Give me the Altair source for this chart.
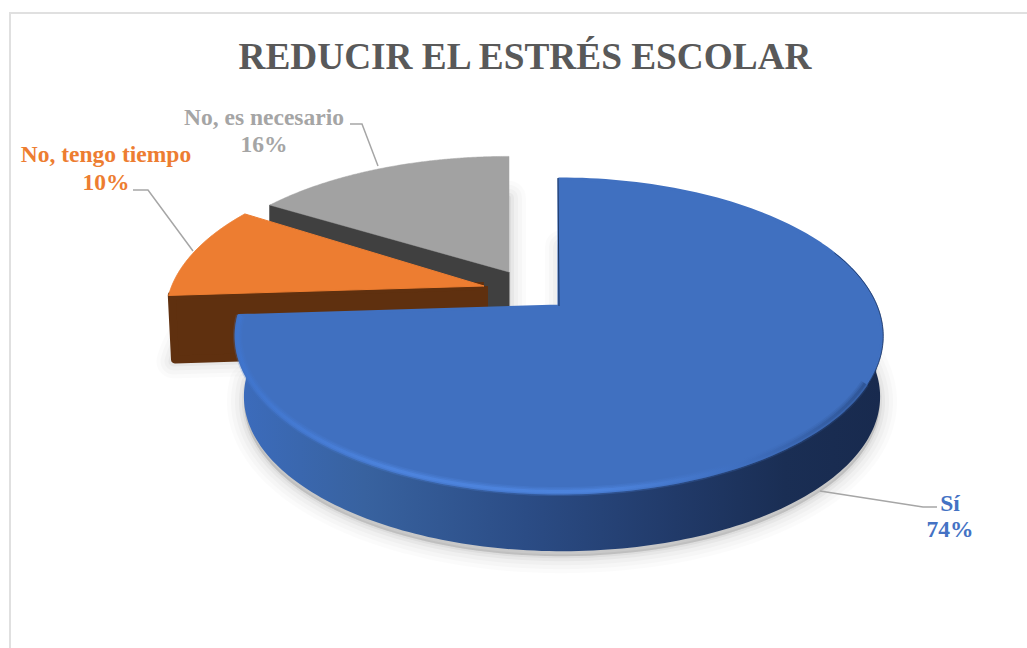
import numpy as np
import pandas as pd
import altair as alt

# Survey answers, clockwise from twelve o'clock
categories = ["Sí", "No, tengo tiempo", "No, es necesario"]
percentages = [74, 10, 16]

W, H = 1027, 648
FONT = "Liberation Serif"
BLUE, ORANGE, GREY = "#4070c0", "#ed7d31", "#a2a2a2"
TEXT_BLUE, TEXT_GREY = "#4472c4", "#a5a5a5"

# Tilted-disc projection of the pie
TILT = 0.191
SPREAD_Y = 151.3
SPREAD_X = 317.0


def project(phi, apex, sx=1.0, sy=1.0, drop=0.0, shift=0.0):
    u, v = np.sin(phi), -np.cos(phi)
    d = 1 - TILT * v
    return apex[0] + shift + sx * SPREAD_X * u / d, apex[1] + sy * SPREAD_Y * v / d + drop


def table(xs, ys):
    return pd.DataFrame({"x": xs, "y": ys, "i": np.arange(len(xs))})


x_scale = alt.Scale(domain=[0, W], range=[0, W], nice=False, zero=False)
y_scale = alt.Scale(domain=[0, H], range=[0, H], nice=False, zero=False)


def path(df, **mark):
    return alt.Chart(df).mark_line(**mark).encode(
        x=alt.X("x:Q", scale=x_scale, axis=None),
        y=alt.Y("y:Q", scale=y_scale, axis=None),
        order=alt.Order("i:Q"),
    )


def sweep(a, b, n=160):
    return np.linspace(a, b, n)


def sector(a, b, apex, sx=1.0, sy=1.0, drop=0.0, shift=0.0):
    px, py = project(sweep(a, b), apex, sx, sy, drop, shift)
    ax = apex[0] + shift
    return table(np.r_[ax, px, ax], np.r_[apex[1] + drop, py, apex[1] + drop])


def wall(a, b, apex, low_sx, low_sy, drop, shift):
    tx, ty = project(sweep(a, b), apex)
    bx, by = project(sweep(b, a), apex, low_sx, low_sy, drop, shift)
    return table(np.r_[tx, bx, tx[0]], np.r_[ty, by, ty[0]])


def radial_face(phi, apex, sx, sy, low_sx, low_sy, drop):
    cx, cy = project(phi, apex, sx, sy)
    lx, ly = project(phi, apex, low_sx, low_sy, drop)
    return table([apex[0], cx, lx, apex[0], apex[0]],
                 [apex[1], cy, ly, apex[1] + drop, apex[1]])


def text(label, x, y, size, color):
    return alt.Chart(pd.DataFrame({"t": [label]})).mark_text(
        font=FONT, fontWeight="bold", fontSize=size, color=color, align="center", baseline="alphabetic"
    ).encode(text="t:N", x=alt.value(x), y=alt.value(y))


# Slice boundaries follow the percentages
edges = np.radians(np.cumsum([0] + percentages) * 3.6)
a_blue, b_blue = edges[0], edges[1]
a_orange, b_orange = edges[1], edges[2]
a_grey, b_grey = edges[2], edges[3]

APEX_BLUE = (559, 306)
APEX_ORANGE = (484, 286)
APEX_GREY = (509, 272)

layers = []

# Frame, open towards the window's right and bottom edges
layers.append(path(table([W + 5, 10, 10], [13, 13, H + 5]), stroke="#e0e0e0", strokeWidth=2, clip=True))

# Soft ground shadows, widest first
shadow_blue = sector(a_blue, b_blue, APEX_BLUE, 0.985, 0.985, 66, 3)
shadow_orange = sector(a_orange, b_orange, APEX_ORANGE, 0.97, 0.98, 66)
shadow_grey = sector(a_grey, b_grey, APEX_GREY, 0.99, 0.9, 40)
for width, alpha in [(34, 0.014), (26, 0.018), (18, 0.024), (10, 0.034), (4, 0.045)]:
    for frame in (shadow_grey, shadow_orange, shadow_blue):
        layers.append(path(frame, fill="#000000", stroke="#000000", strokeWidth=width,
                           fillOpacity=alpha, strokeOpacity=alpha, strokeJoin="round"))

# Grey slice
layers.append(path(radial_face(b_orange, APEX_GREY, 0.985, 0.91, 0.985, 0.91, 60),
                   fill="#404040", stroke="#404040", strokeWidth=1, strokeJoin="round"))
layers.append(path(sector(a_grey, b_grey, APEX_GREY, 0.985, 0.91), fill=GREY, stroke=GREY, strokeWidth=0.5))

# Orange slice, its side face with rounded lower corner
layers.append(path(radial_face(a_orange, APEX_ORANGE, 0.975, 0.98, 0.965, 0.98, 64),
                   fill="#5f300f", stroke="#5f300f", strokeWidth=8, strokeJoin="round"))
layers.append(path(sector(a_orange, b_orange, APEX_ORANGE, 0.985, 0.98), fill=ORANGE, stroke=ORANGE, strokeWidth=1,
                   strokeJoin="round"))

# Blue slice: outer wall shaded from left to right, then the top face and its bevel
wall_shade = alt.Gradient(
    gradient="linear", x1=0, x2=1, y1=0, y2=0,
    stops=[
        alt.GradientStop(color="#3c6cbd", offset=0.0),
        alt.GradientStop(color="#38629f", offset=0.2),
        alt.GradientStop(color="#2b4c85", offset=0.45),
        alt.GradientStop(color="#213a69", offset=0.68),
        alt.GradientStop(color="#1a2e54", offset=0.85),
        alt.GradientStop(color="#182a4e", offset=1.0),
    ],
)
layers.append(path(wall(np.radians(92), b_blue, APEX_BLUE, 0.985, 0.985, 61, 3),
                   fill=wall_shade, strokeWidth=0))
layers.append(path(sector(a_blue, b_blue, APEX_BLUE), fill=BLUE, stroke=BLUE, strokeWidth=3, strokeJoin="round"))

bevel_x, bevel_y = project(sweep(np.radians(118), b_blue), APEX_BLUE, 0.995, 0.992)
bevel_shade = alt.Gradient(
    gradient="linear", x1=1, x2=0, y1=0, y2=0,
    stops=[
        alt.GradientStop(color="#2f5596", offset=0.0),
        alt.GradientStop(color="#3f6fc0", offset=0.2),
        alt.GradientStop(color="#4d84de", offset=0.42),
        alt.GradientStop(color="#4d84de", offset=0.75),
        alt.GradientStop(color="#3f74cc", offset=1.0),
    ],
)
for width, alpha in [(9, 0.25), (6, 0.4), (3, 0.9)]:
    layers.append(path(table(bevel_x, bevel_y), stroke=bevel_shade, strokeWidth=width, strokeOpacity=alpha))

# Dark hairlines along the shaded blue edges
hair_x, hair_y = project(sweep(np.radians(68), np.radians(118), 60), APEX_BLUE, 1.004, 1.004)
layers.append(path(table(hair_x, hair_y), stroke="#1d3560", strokeWidth=1, strokeOpacity=0.8))
layers.append(path(table([APEX_BLUE[0], APEX_BLUE[0] - 1], [APEX_BLUE[1], 178]), stroke="#1d3560", strokeWidth=1))

# Leader lines
for xs, ys in [([350, 362, 378], [124, 124, 166]),
               ([133, 148, 193], [190, 190, 251]),
               ([937, 923, 820], [507, 507, 491])]:
    layers.append(path(table(xs, ys), stroke="#a6a6a6", strokeWidth=1.5))

# Title and data labels
layers.append(text("REDUCIR EL ESTRÉS ESCOLAR", 525, 69, 37.3, "#595959"))
layers.append(text(categories[0], 950, 511, 23.5, TEXT_BLUE))
layers.append(text(f"{percentages[0]}%", 950, 537, 23.5, TEXT_BLUE))
layers.append(text(categories[1], 106, 162, 23.5, ORANGE))
layers.append(text(f"{percentages[1]}%", 106, 190, 23.5, ORANGE))
layers.append(text(categories[2], 264, 125, 23.5, TEXT_GREY))
layers.append(text(f"{percentages[2]}%", 264, 152, 23.5, TEXT_GREY))

chart = alt.layer(*layers).properties(
    width=W, height=H, padding=0, autosize=alt.AutoSizeParams(type="none"), background="white"
).configure_view(strokeWidth=0)

chart.save("out.html", embed_options={"renderer": "svg", "actions": False})
